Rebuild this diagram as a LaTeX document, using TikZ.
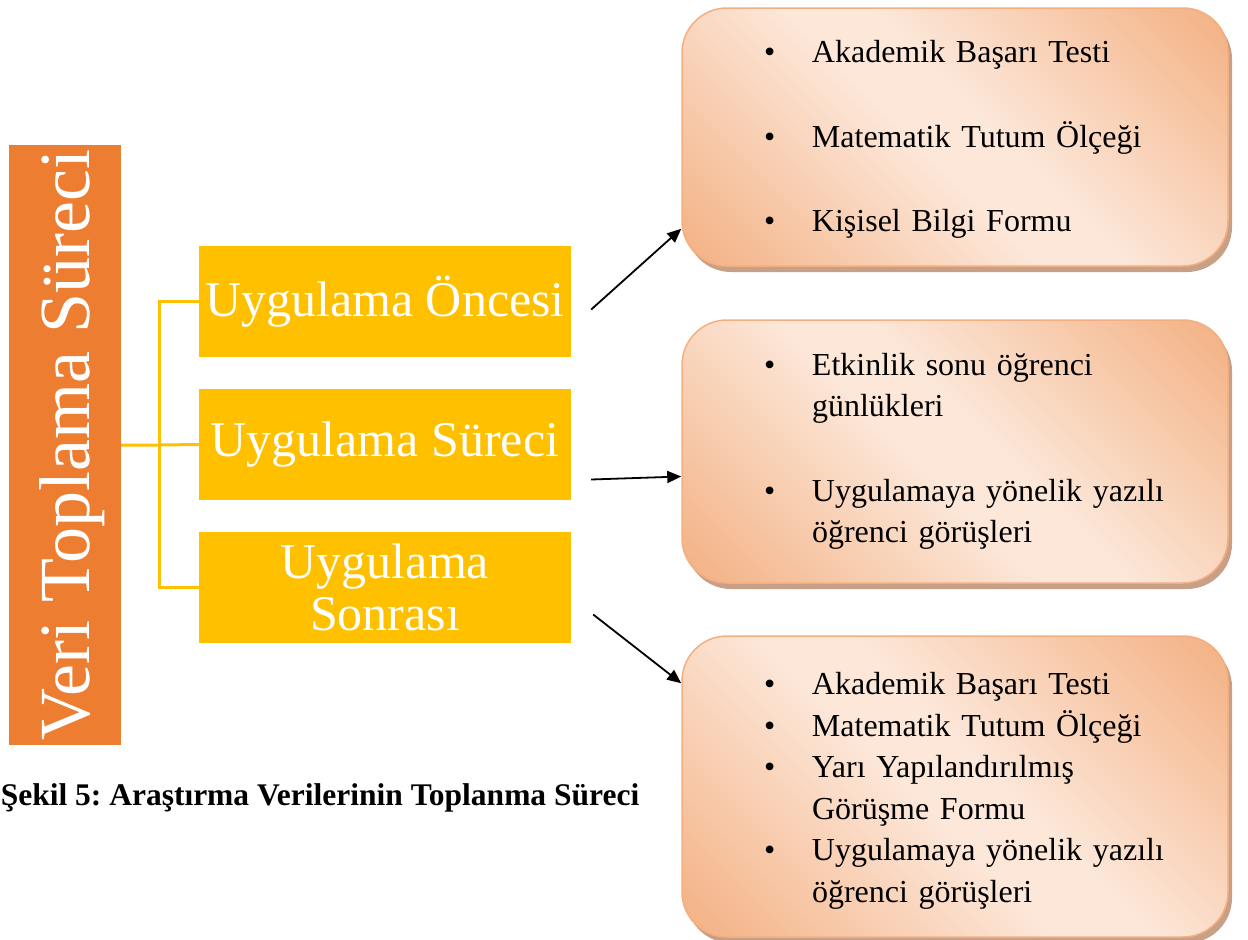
\documentclass[tikz,border=0pt]{standalone}
\usepackage{fontspec}
\setmainfont{Liberation Serif}
\usepackage{xcolor}
\usepackage{tikz}
\usetikzlibrary{
    positioning,
    arrows.meta,
    calc,
    shadows
}
\definecolor{stageOrange}{RGB}{237, 125, 49}
\definecolor{stageGold}{RGB}{255, 192, 0}
\definecolor{listDark}{RGB}{243, 175, 128}
\definecolor{listLight}{RGB}{252, 231, 217}
\definecolor{listShade}{RGB}{200, 160, 135}

\pgfdeclareverticalshading{listshading}{100bp}{color(0bp)=(listDark); color(14bp)=(listDark);
    color(46bp)=(listLight); color(54bp)=(listLight); color(86bp)=(listDark); color(100bp)=(listDark)}

\tikzset{
    mainbar/.style={fill=stageOrange, text=white, rotate=90, inner sep=0pt,
        minimum width=600pt, minimum height=112pt, font=\fontsize{72}{72}\selectfont},
    stagebox/.style={fill=stageGold, text=white, inner sep=0pt, align=center,
        minimum width=372pt, minimum height=111pt, font=\fontsize{50}{52}\selectfont},
    listbox/.style={draw=listDark, line width=1.5pt, rounded corners=45pt,
        shading=listshading, shading angle=-45,
        drop shadow={shadow xshift=4pt, shadow yshift=-6pt, fill=listShade, opacity=1},
        minimum width=546pt, text width=456pt, inner xsep=45pt, align=left,
        font=\fontsize{32}{41.5}\selectfont},
    bracket/.style={stageGold, line width=3pt},
    link/.style={->, line width=1.8pt, black}
}
\newcommand{\itm}{\makebox[85pt][l]{\hspace{37pt}\textbullet}}
\newcommand{\cnt}{\hspace*{85pt}}

\begin{document}
\frenchspacing
\begin{tikzpicture}[x=1pt, y=-1pt, >={Triangle[length=14pt, width=12pt]}]
            \useasboundingbox (0,0) rectangle (1248,940);

            % Main bar
            \node[mainbar] (veri) at (65,445) {\raisebox{-7pt}[\height][\depth]{Veri Toplama Süreci}};

            % Stages
            \node[stagebox] (once) at (385,301.5) {Uygulama Öncesi};
            \node[stagebox] (surec) at (385,444.5) {Uygulama Süreci};
            \node[stagebox] (sonra) at (385,587.5) {Uygulama\\Sonrası};

            % Bracket
            \coordinate (fork) at (159,445);
            \draw[bracket] (veri.south) -- (fork) -- (surec.west);
            \draw[bracket] (once.west) -| (fork) |- (sonra.west);

            % Lists
            \node[listbox, minimum height=258pt] (listA) at (955,137) {%
                \itm\rule{0pt}{27pt}Akademik Başarı Testi\\[43pt]
                \itm Matematik Tutum Ölçeği\\[43pt]
                \itm Kişisel Bilgi Formu};
            \node[listbox, minimum height=263pt] (listB) at (955,451.5) {%
                \itm Etkinlik sonu öğrenci\\
                \cnt günlükleri\\[43pt]
                \itm Uygulamaya yönelik yazılı\\
                \cnt öğrenci görüşleri};
            \node[listbox, minimum height=301pt] (listC) at (955,786.5) {%
                \itm\rule{0pt}{31pt}Akademik Başarı Testi\\
                \itm Matematik Tutum Ölçeği\\
                \itm Yarı Yapılandırılmış\\
                \cnt Görüşme Formu\\
                \itm Uygulamaya yönelik yazılı\\
                \cnt öğrenci görüşleri};

            % Arrows
            \coordinate (fromA) at ($(once.east)+(20,8)$);
            \coordinate (fromB) at ($(surec.east)+(20,35)$);
            \coordinate (fromC) at ($(sonra.east)+(22,27)$);
            \draw[link] (fromA) -- ($(listA.south west)+(0,-38)$);
            \draw[link] (fromB) -- ($(listB.west)+(0,25)$);
            \draw[link] (fromC) -- ($(listC.north west)+(0,48)$);

            % Caption
            \node[font=\bfseries\fontsize{31.5}{32}\selectfont] (caption) at (320,798) {Şekil 5: Araştırma Verilerinin Toplanma Süreci};
        \end{tikzpicture}
\end{document}
